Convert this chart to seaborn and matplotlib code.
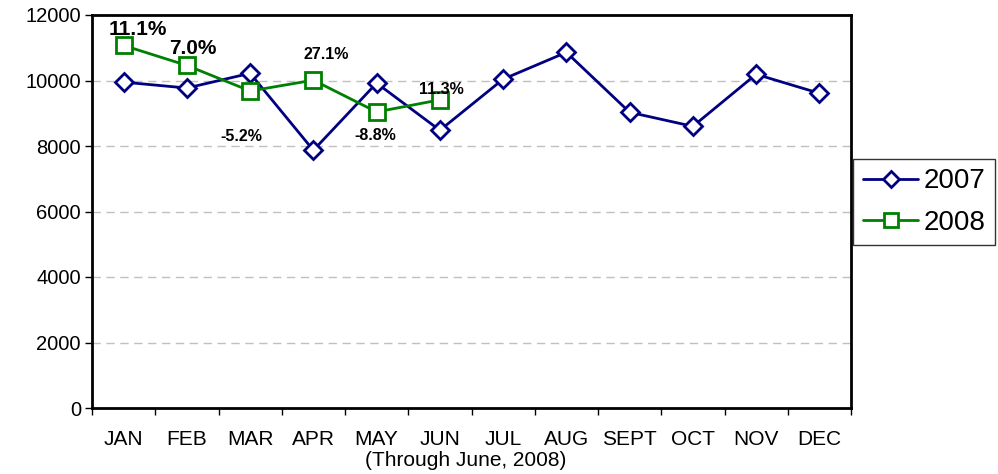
import matplotlib
matplotlib.use("Agg")
import matplotlib.pyplot as plt
import seaborn as sns
import numpy as np
import pandas as pd

months = ["JAN", "FEB", "MAR", "APR", "MAY", "JUN", "JUL", "AUG", "SEPT", "OCT", "NOV", "DEC"]
v2007 = [9950, 9770, 10220, 7870, 9920, 8480, 10040, 10860, 9030, 8600, 10190, 9610]
v2008 = [11070, 10460, 9680, 10010, 9040, 9410]
pct_labels = ["11.1%", "7.0%", "-5.2%", "27.1%", "-8.8%", "11.3%"]
pct_x = [0.23, 1.1, 1.86, 3.2, 3.98, 5.02]
pct_y = [11550, 10990, 8300, 10780, 8330, 9710]
pct_size = [15, 15, 11.5, 11.5, 11.5, 11.5]
yticks = [0, 2000, 4000, 6000, 8000, 10000, 12000]

sns.set_theme(style="white")
plt.rcParams['font.family'] = ['Liberation Sans', 'DejaVu Sans']
plt.rcParams['text.color'] = 'black'
plt.rcParams['xtick.color'] = 'black'
plt.rcParams['ytick.color'] = 'black'
plt.rcParams['axes.labelcolor'] = 'black'

fig = plt.figure(figsize=(9.98, 4.74), dpi=100)
ax = fig.add_axes([92/998, 1-408/474, (851-92)/998, (408-15)/474])

df7 = pd.DataFrame({"x": np.arange(len(v2007)), "y": v2007})
df8 = pd.DataFrame({"x": np.arange(len(v2008)), "y": v2008})
sns.lineplot(data=df7, x="x", y="y", ax=ax, color="#000080", lw=2,
             marker="D", markersize=9, markerfacecolor="white",
             markeredgecolor="#000080", markeredgewidth=2, label="2007")
sns.lineplot(data=df8, x="x", y="y", ax=ax, color="#008000", lw=2,
             marker="s", markersize=11.5, markerfacecolor="white",
             markeredgecolor="#008000", markeredgewidth=2, label="2008")

for t, x, y, s in zip(pct_labels, pct_x, pct_y, pct_size):
    ax.text(x, y, t, ha="center", va="center", fontsize=s, fontweight="bold", color="black")

ax.set_xlim(-0.5, 11.5)
ax.set_ylim(0, 12000)
ax.set_yticks(yticks)
ax.set_yticklabels([str(v) for v in yticks], fontsize=14.5)
ax.set_xticks(np.arange(-0.5, 12, 1))
ax.set_xticklabels([])
ax.set_xticks(np.arange(12), minor=True)
ax.set_xticklabels(months, minor=True, fontsize=15)
ax.tick_params(axis="x", which="major", direction="out", length=5, width=1, color="black", bottom=True)
ax.tick_params(axis="x", which="minor", length=0, pad=16)
ax.tick_params(axis="y", direction="out", length=5, width=1, color="black", left=True, pad=3)
for yv in yticks[1:-1]:
    ax.axhline(yv, color="#c0c0c0", lw=1, ls=(0, (6, 4)), zorder=0)
for s in ax.spines.values():
    s.set_color("black")
    s.set_linewidth(2)
ax.set_xlabel("")
ax.set_ylabel("")

fig.text(466/998, 1-460/474, "(Through June, 2008)", ha="center", va="center", fontsize=15)

leg = ax.legend(loc="center left", bbox_to_anchor=(853/998, 1-202/474), bbox_transform=fig.transFigure,
                fontsize=20, frameon=True, fancybox=False, edgecolor="black", markerscale=0.85,
                borderpad=0.35, handlelength=2.0, handletextpad=0.2, labelspacing=0.55, borderaxespad=0)
leg.get_frame().set_linewidth(1)

fig.savefig("out.png", dpi=100)
